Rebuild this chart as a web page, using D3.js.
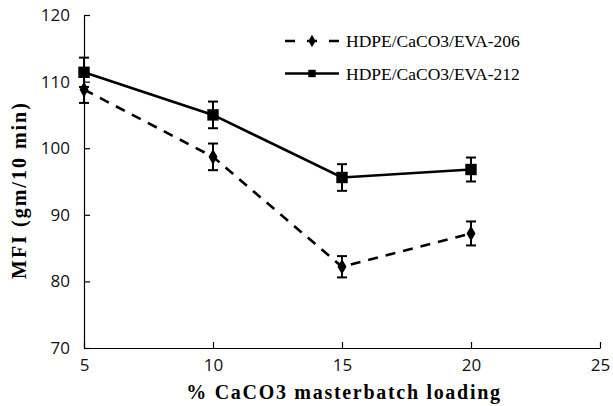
<!DOCTYPE html>
<html>
<head>
<meta charset="utf-8">
<script src="https://cdn.jsdelivr.net/npm/d3@7"></script>
<style>
  body { margin: 0; background: #fff; }
  .tick text { font-family: "Open Sans", sans-serif; font-size: 17px; fill: #111; }
  .axisTitle { font-family: "Liberation Serif", serif; font-weight: bold; font-size: 20px; }
  .legendText { font-family: "Liberation Serif", serif; font-size: 17.5px; }
</style>
</head>
<body>
<script>
    //chart data
    var loading = [5, 10, 15, 20];
    var eva206 = [108.8, 98.7, 82.2, 87.2];
    var eva206Err = [2.0, 2.0, 1.6, 1.8];
    var eva212 = [111.4, 105.0, 95.6, 96.8];
    var eva212Err = [2.2, 2.0, 2.0, 1.8];
    var xTicks = [5, 10, 15, 20, 25];
    var yTicks = [70, 80, 90, 100, 110, 120];

    var width = 613, height = 406;

    var svg = d3.select("body")
        .append("svg")
        .attr("width", width)
        .attr("height", height);

    //scales
    var x = d3.scaleLinear().domain([5, 25]).range([84, 600]);
    var y = d3.scaleLinear().domain([70, 120]).range([348, 15]);

    //axes
    svg.append("g")
        .attr("transform", "translate(0," + y(70) + ")")
        .call(d3.axisBottom(x).tickValues(xTicks).tickSizeInner(-6).tickSizeOuter(0).tickPadding(11))
        .call(function(g){ g.selectAll("line, path").attr("stroke", "#000").attr("stroke-width", 1.2); });

    svg.append("g")
        .attr("transform", "translate(" + x(5) + ",0)")
        .call(d3.axisLeft(y).tickValues(yTicks).tickSizeInner(-6).tickSizeOuter(0).tickPadding(14))
        .call(function(g){ g.selectAll("line, path").attr("stroke", "#000").attr("stroke-width", 1.2); });

    //axis titles
    svg.append("text")
        .attr("class", "axisTitle")
        .attr("x", 344)
        .attr("y", 399)
        .attr("text-anchor", "middle")
        .style("letter-spacing", "1.7px")
        .text("% CaCO3 masterbatch loading");

    svg.append("text")
        .attr("class", "axisTitle")
        .attr("transform", "translate(26,190) rotate(-90)")
        .attr("text-anchor", "middle")
        .style("letter-spacing", "2px")
        .text("MFI (gm/10 min)");

    //series setup
    var series = [
        {name: "HDPE/CaCO3/EVA-206", values: eva206, err: eva206Err, dash: "10,8", marker: "diamond"},
        {name: "HDPE/CaCO3/EVA-212", values: eva212, err: eva212Err, dash: null, marker: "square"}
    ];

    var line = d3.line()
        .x(function(d){ return x(d[0]); })
        .y(function(d){ return y(d[1]); });

    series.forEach(function(s){
        var pts = loading.map(function(l, i){ return [l, s.values[i], s.err[i]]; });

        //error bars
        var eb = svg.append("g");
        pts.forEach(function(p){
            eb.append("line")
                .attr("x1", x(p[0])).attr("x2", x(p[0]))
                .attr("y1", y(p[1] + p[2])).attr("y2", y(p[1] - p[2]))
                .attr("stroke", "#000").attr("stroke-width", 2);
            [p[1] + p[2], p[1] - p[2]].forEach(function(v){
                eb.append("line")
                    .attr("x1", x(p[0]) - 5).attr("x2", x(p[0]) + 5)
                    .attr("y1", y(v)).attr("y2", y(v))
                    .attr("stroke", "#000").attr("stroke-width", 2);
            });
        });

        svg.append("path")
            .datum(pts)
            .attr("d", line)
            .attr("fill", "none")
            .attr("stroke", "#000")
            .attr("stroke-width", 2.6)
            .attr("stroke-dasharray", s.dash);

        var sym = s.marker == "square" ? d3.symbol().type(d3.symbolSquare).size(130)
                                       : d3.symbol().type(d3.symbolDiamond).size(70);
        svg.selectAll(".m" + s.marker)
            .data(pts)
            .enter()
            .append("path")
            .attr("class", "m" + s.marker)
            .attr("d", sym)
            .attr("transform", function(d){ return "translate(" + x(d[0]) + "," + y(d[1]) + ")"; })
            .attr("fill", "#000");
    });

    //legend
    var legend = svg.append("g");
    series.forEach(function(s, i){
        var ly = 41 + i * 32.5;
        legend.append("line")
            .attr("x1", 285).attr("x2", 339)
            .attr("y1", ly).attr("y2", ly)
            .attr("stroke", "#000")
            .attr("stroke-width", 2.6)
            .attr("stroke-dasharray", s.dash ? "10,12" : null);
        var sym = s.marker == "square" ? d3.symbol().type(d3.symbolSquare).size(55)
                                       : d3.symbol().type(d3.symbolDiamond).size(45);
        legend.append("path")
            .attr("d", sym)
            .attr("transform", "translate(312," + ly + ")")
            .attr("fill", "#000");
        legend.append("text")
            .attr("class", "legendText")
            .attr("x", 346)
            .attr("y", ly + 6)
            .text(s.name);
    });
</script>
</body>
</html>
